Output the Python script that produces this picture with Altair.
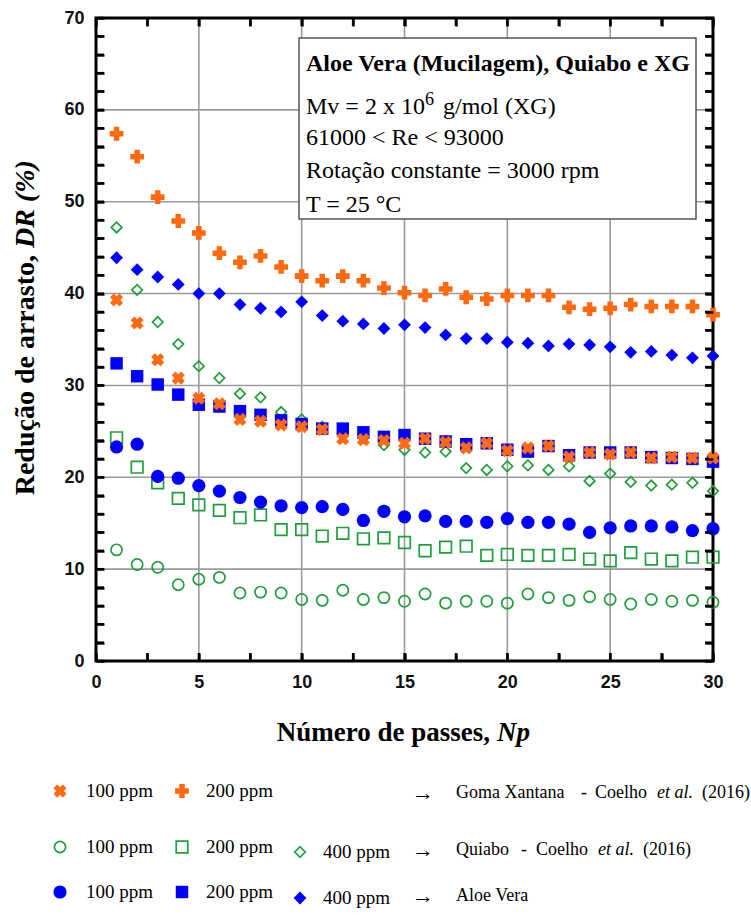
import altair as alt
import pandas as pd

# ---------------- data ----------------
np_passes = list(range(1, 31))

xg_100 = [39.3, 36.8, 32.8, 30.8, 28.6, 28.0, 26.3, 26.1, 25.7, 25.5, 25.2, 24.2, 24.1, 24.0, 23.7,
          24.2, 23.8, 23.2, 23.7, 22.9, 23.2, 23.4, 22.2, 22.7, 22.5, 22.7, 22.1, 22.2, 22.1, 22.1]
xg_200 = [57.4, 54.9, 50.5, 47.9, 46.6, 44.4, 43.4, 44.1, 42.9, 41.9, 41.4, 41.9, 41.4, 40.6, 40.1,
          39.8, 40.5, 39.6, 39.4, 39.8, 39.8, 39.8, 38.5, 38.3, 38.4, 38.8, 38.6, 38.6, 38.6, 37.7]
qb_100 = [12.1, 10.5, 10.2, 8.3, 8.9, 9.1, 7.4, 7.5, 7.4, 6.7, 6.6, 7.7, 6.7, 6.9, 6.5,
          7.3, 6.3, 6.5, 6.5, 6.3, 7.3, 6.9, 6.6, 7.0, 6.7, 6.2, 6.7, 6.5, 6.6, 6.4]
qb_200 = [24.3, 21.1, 19.4, 17.7, 17.0, 16.4, 15.6, 15.9, 14.3, 14.3, 13.6, 13.9, 13.3, 13.4, 12.9,
          12.0, 12.4, 12.5, 11.5, 11.6, 11.5, 11.5, 11.6, 11.1, 10.9, 11.8, 11.1, 10.9, 11.3, 11.3]
qb_400 = [47.2, 40.4, 36.9, 34.5, 32.1, 30.8, 29.1, 28.7, 27.1, 26.3, 25.5, 24.8, 24.3, 23.5, 23.0,
          22.7, 22.8, 21.0, 20.8, 21.2, 21.3, 20.8, 21.2, 19.6, 20.4, 19.5, 19.1, 19.2, 19.4, 18.5]
av_100 = [23.3, 23.6, 20.1, 19.9, 19.1, 18.5, 17.8, 17.3, 16.9, 16.7, 16.8, 16.5, 15.3, 16.3, 15.7,
          15.8, 15.2, 15.2, 15.1, 15.5, 15.1, 15.1, 14.9, 14.0, 14.5, 14.7, 14.7, 14.6, 14.2, 14.4]
av_200 = [32.4, 31.0, 30.1, 29.0, 27.9, 27.7, 27.2, 26.8, 26.2, 25.8, 25.3, 25.3, 24.9, 24.4, 24.6,
          24.2, 23.9, 23.6, 23.7, 23.0, 22.8, 23.4, 22.4, 22.7, 22.7, 22.7, 22.2, 22.1, 22.0, 21.7]
av_400 = [43.9, 42.6, 41.8, 41.0, 40.0, 40.0, 38.8, 38.4, 38.0, 39.1, 37.6, 37.0, 36.7, 36.2, 36.6,
          36.3, 35.5, 35.1, 35.1, 34.7, 34.6, 34.3, 34.5, 34.4, 34.2, 33.6, 33.7, 33.3, 33.0, 33.2]

x_minor = [2.5 * i for i in range(13)]   # ticks every 2.5, labels/grid every 5
y_minor = [2 * i for i in range(36)]     # ticks every 2, labels/grid every 10

# ---------------- style ----------------
W, H = 617, 643
PL, PT = 96, 18
ORANGE = "#FF6A10"
GREEN = "#1E9E3C"
BLUE = "#0000FF"
SERIF = "Liberation Serif"
SANS = "Liberation Sans"
TICK = 8

XMAX, YMAX = 30.0, 70.0
xs = alt.Scale(domain=[0, XMAX], nice=False, zero=False)
ys = alt.Scale(domain=[0, YMAX], nice=False, zero=False)
dummy = pd.DataFrame({"d": [0]})
corners = pd.DataFrame({"Np": [0, XMAX], "DR": [0, YMAX]})


def series(vals, **mark):
    df = pd.DataFrame({"Np": np_passes, "DR": vals})
    return alt.Chart(df).mark_point(**mark).encode(
        x=alt.X("Np:Q", scale=xs, axis=None),
        y=alt.Y("DR:Q", scale=ys, axis=None),
    )


sty = {
    "xg100": dict(shape="cross", angle=45, filled=True, color=ORANGE, size=175, opacity=1),
    "xg200": dict(shape="cross", filled=True, color=ORANGE, size=190, opacity=1),
    "qb100": dict(shape="circle", filled=False, color=GREEN, size=125, strokeWidth=1.7, opacity=1),
    "qb200": dict(shape="square", filled=False, color=GREEN, size=135, strokeWidth=1.7, opacity=1),
    "qb400": dict(shape="diamond", filled=False, color=GREEN, size=110, strokeWidth=1.7, opacity=1),
    "av100": dict(shape="circle", filled=True, color=BLUE, size=175, opacity=1),
    "av200": dict(shape="square", filled=True, color=BLUE, size=155, opacity=1),
    "av400": dict(shape="diamond", filled=True, color=BLUE, size=165, opacity=1),
}

tick_common = dict(ticks=True, tickSize=TICK, tickColor="#000000", tickWidth=2.4, tickOpacity=1,
                   offset=-TICK, domain=False, labelFlush=False, zindex=1)

ax_bottom = alt.Axis(
    orient="bottom", values=x_minor, title=None, **tick_common,
    labelExpr="datum.value % 5 === 0 ? datum.label : ''",
    labelFont=SANS, labelFontWeight="bold", labelFontSize=18, labelColor="#111", labelPadding=12,
    grid=False,
)
ax_left = alt.Axis(
    orient="left", values=y_minor, title=None, **tick_common,
    labelExpr="datum.value % 10 === 0 ? datum.label : ''",
    labelFont=SANS, labelFontWeight="bold", labelFontSize=18, labelColor="#111", labelPadding=12,
    grid=False,
)
ax_top = alt.Axis(orient="top", values=x_minor, title=None, labels=False, grid=False, **tick_common)
ax_right = alt.Axis(orient="right", values=y_minor, title=None, labels=False, grid=False, **tick_common)

frame_a = alt.Chart(corners).mark_point(opacity=0).encode(
    x=alt.X("Np:Q", scale=xs, axis=ax_bottom),
    y=alt.Y("DR:Q", scale=ys, axis=ax_left),
)
frame_b = alt.Chart(corners).mark_point(opacity=0).encode(
    x=alt.X("Np:Q", scale=xs, axis=ax_top),
    y=alt.Y("DR:Q", scale=ys, axis=ax_right),
)

# grid lines (major values) as rule marks
grid_x = alt.Chart(pd.DataFrame({"gx": [5, 10, 15, 20, 25]})).mark_rule(
    color="#9a9a9a", strokeWidth=1.6).encode(x=alt.X("gx:Q", scale=xs, axis=None))
grid_y = alt.Chart(pd.DataFrame({"gy": [10, 20, 30, 40, 50, 60]})).mark_rule(
    color="#9a9a9a", strokeWidth=1.6).encode(y=alt.Y("gy:Q", scale=ys, axis=None))

# inward ticks also as thin rectangles (same place as the axis ticks)
TX, TY = TICK * XMAX / W, TICK * YMAX / H
DX, DY = 1.2 * XMAX / W, 1.2 * YMAX / H
rows = []
for v in y_minor:
    rows.append({"x0": 0.0, "x1": TX, "y0": v - DY, "y1": v + DY})
    rows.append({"x0": XMAX - TX, "x1": XMAX, "y0": v - DY, "y1": v + DY})
for v in x_minor:
    rows.append({"x0": v - DX, "x1": v + DX, "y0": 0.0, "y1": TY})
    rows.append({"x0": v - DX, "x1": v + DX, "y0": YMAX - TY, "y1": YMAX})
tick_rects = alt.Chart(pd.DataFrame(rows)).mark_rect(color="black", opacity=1).encode(
    x=alt.X("x0:Q", scale=xs, axis=None), x2="x1",
    y=alt.Y("y0:Q", scale=ys, axis=None), y2="y1",
)


def txt(s, px, py, size=18, weight="normal", style="normal", align="left",
        baseline="middle", angle=0, font=SERIF):
    return alt.Chart(dummy).mark_text(
        text=s, font=font, fontSize=size, fontWeight=weight, fontStyle=style,
        align=align, baseline=baseline, angle=angle, color="black",
    ).encode(x=alt.value(px - PL), y=alt.value(py - PT))


def sym(key, px, py):
    return alt.Chart(dummy).mark_point(**sty[key]).encode(
        x=alt.value(px - PL), y=alt.value(py - PT))


layers = [grid_x, grid_y, frame_a, frame_b, tick_rects]

layers += [
    series(qb_100, **sty["qb100"]),
    series(qb_200, **sty["qb200"]),
    series(qb_400, **sty["qb400"]),
    series(av_100, **sty["av100"]),
    series(av_200, **sty["av200"]),
    series(av_400, **sty["av400"]),
    series(xg_200, **sty["xg200"]),
    series(xg_100, **sty["xg100"]),
]

# annotation box
box = alt.Chart(dummy).mark_rect(fill="white", stroke="#555555", strokeWidth=1.5).encode(
    x=alt.value(299 - PL), x2=alt.value(696 - PL),
    y=alt.value(38 - PT), y2=alt.value(219 - PT))
layers.append(box)
layers += [
    txt("Aloe Vera (Mucilagem), Quiabo e XG", 306, 71, size=24, weight="bold", baseline="alphabetic"),
    txt("Mv = 2 x 10", 306, 114, size=24, baseline="alphabetic"),
    txt("6", 425, 105, size=18, baseline="alphabetic"),
    txt("g/mol (XG)", 443, 114, size=24, baseline="alphabetic"),
    txt("61000 < Re < 93000", 306, 145, size=24, baseline="alphabetic"),
    txt("Rotação constante = 3000 rpm", 306, 178, size=24, baseline="alphabetic"),
    txt("T = 25 °C", 306, 212, size=24, baseline="alphabetic"),
]

# axis titles
layers += [
    txt("Redução de arrasto,", 26, 255, size=28, weight="bold", align="right", angle=270),
    txt("DR (%)", 26, 248, size=28, weight="bold", style="italic", align="left", angle=270),
    txt("Número de passes,", 490, 733, size=27, weight="bold", align="right"),
    txt("Np", 497, 733, size=27, weight="bold", style="italic", align="left"),
]

# legend
r1, r2, r3 = 791, 847, 892
layers += [
    sym("xg100", 60, r1), txt("100 ppm", 86, r1, size=19),
    sym("xg200", 182, r1), txt("200 ppm", 206, r1, size=19),
    txt("→", 423, r1 + 2, size=22, align="center"),
    txt("Goma Xantana", 456, r1 + 2), txt("-", 584, r1 + 2, align="center"),
    txt("Coelho", 595, r1 + 2), txt("et al.", 657, r1 + 2, style="italic"),
    txt("(2016)", 702, r1 + 2),

    sym("qb100", 60, r2), txt("100 ppm", 86, r2, size=19),
    sym("qb200", 182, r2), txt("200 ppm", 206, r2, size=19),
    sym("qb400", 300, r2 + 5), txt("400 ppm", 323, r2 + 5, size=19),
    txt("→", 423, r2 + 3, size=22, align="center"),
    txt("Quiabo", 456, r2 + 3), txt("-", 524, r2 + 3, align="center"),
    txt("Coelho", 536, r2 + 3), txt("et al.", 598, r2 + 3, style="italic"),
    txt("(2016)", 643, r2 + 3),

    sym("av100", 60, r3), txt("100 ppm", 86, r3, size=19),
    sym("av200", 182, r3), txt("200 ppm", 206, r3, size=19),
    sym("av400", 300, r3 + 6), txt("400 ppm", 323, r3 + 6, size=19),
    txt("→", 423, r3 + 4, size=22, align="center"),
    txt("Aloe Vera", 456, r3 + 4),
]

chart = alt.layer(*layers).resolve_axis(x="independent", y="independent").properties(
    width=W, height=H,
    autosize=alt.AutoSizeParams(type="none"),
    padding={"left": PL, "top": PT, "right": 751 - PL - W, "bottom": 917 - PT - H},
    background="white",
).configure_view(stroke="black", strokeWidth=3)

chart.save("out.html", embed_options={"renderer": "svg", "actions": False})
